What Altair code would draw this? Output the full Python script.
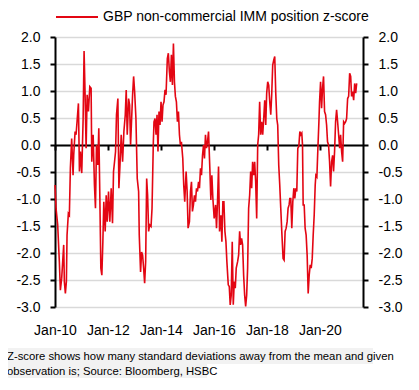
import altair as alt
import pandas as pd

# decimal years (observation dates) and GBP non-commercial IMM position z-score
years = [
    2010.000, 2010.038, 2010.101, 2010.164, 2010.202, 2010.253, 2010.290, 2010.328, 2010.354, 2010.391,
    2010.429, 2010.455, 2010.505, 2010.543, 2010.581, 2010.631, 2010.682, 2010.707, 2010.758, 2010.795,
    2010.833, 2010.884, 2010.922, 2010.960, 2011.010, 2011.061, 2011.098, 2011.136, 2011.174, 2011.212,
    2011.263, 2011.313, 2011.364, 2011.389, 2011.439, 2011.490, 2011.528, 2011.566, 2011.616, 2011.654,
    2011.692, 2011.730, 2011.768, 2011.806, 2011.843, 2011.894, 2011.932, 2011.970, 2012.020, 2012.071,
    2012.121, 2012.172, 2012.210, 2012.247, 2012.285, 2012.323, 2012.374, 2012.412, 2012.449, 2012.500,
    2012.551, 2012.601, 2012.652, 2012.689, 2012.727, 2012.778, 2012.816, 2012.854,
    2012.929, 2012.967, 2013.005, 2013.056, 2013.106, 2013.157, 2013.182, 2013.232, 2013.270, 2013.308,
    2013.346, 2013.384, 2013.422, 2013.460, 2013.497, 2013.535, 2013.573, 2013.624, 2013.662, 2013.712,
    2013.737, 2013.775, 2013.813, 2013.851, 2013.889, 2013.927, 2013.965, 2014.003, 2014.040, 2014.078,
    2014.116, 2014.154, 2014.192, 2014.242, 2014.280, 2014.318, 2014.356, 2014.394, 2014.432, 2014.470,
    2014.508, 2014.545, 2014.583, 2014.621, 2014.659, 2014.697, 2014.735, 2014.773, 2014.823, 2014.861,
    2014.899, 2014.949, 2014.987, 2015.025, 2015.076, 2015.114, 2015.152, 2015.189, 2015.227, 2015.265,
    2015.303, 2015.341, 2015.379, 2015.417, 2015.455, 2015.492, 2015.530, 2015.568, 2015.606, 2015.644,
    2015.682, 2015.720, 2015.758,
    2015.795, 2015.846, 2015.884, 2015.922, 2015.960, 2016.010, 2016.061, 2016.098, 2016.136, 2016.174,
    2016.212, 2016.263, 2016.300, 2016.338, 2016.376, 2016.414, 2016.452, 2016.490, 2016.540, 2016.578,
    2016.616, 2016.654, 2016.692, 2016.730, 2016.768, 2016.806, 2016.843, 2016.894, 2016.932, 2016.970,
    2017.007, 2017.045, 2017.083, 2017.121, 2017.159, 2017.197, 2017.235, 2017.273, 2017.311, 2017.348,
    2017.386, 2017.424, 2017.462, 2017.500, 2017.538, 2017.576, 2017.614, 2017.651, 2017.689, 2017.727,
    2017.765, 2017.803, 2017.841, 2017.879, 2017.917, 2017.955, 2017.992, 2018.030, 2018.068, 2018.106,
    2018.144, 2018.182, 2018.220, 2018.257, 2018.295, 2018.333, 2018.371, 2018.409, 2018.447, 2018.485,
    2018.523, 2018.560, 2018.611, 2018.649, 2018.687, 2018.725, 2018.763, 2018.800, 2018.838,
    2018.864, 2018.901, 2018.939, 2018.977, 2019.015, 2019.053, 2019.091, 2019.129, 2019.167, 2019.204,
    2019.242, 2019.280, 2019.318, 2019.343, 2019.369, 2019.406, 2019.444, 2019.482, 2019.520, 2019.558,
    2019.596, 2019.634, 2019.672, 2019.710, 2019.747, 2019.785, 2019.823, 2019.848, 2019.886, 2019.924,
    2019.962, 2019.987, 2020.025, 2020.063, 2020.101, 2020.139, 2020.177, 2020.215, 2020.252, 2020.290,
    2020.328, 2020.366, 2020.404, 2020.442, 2020.480, 2020.517, 2020.555, 2020.593, 2020.631, 2020.669,
    2020.707, 2020.745, 2020.783, 2020.821, 2020.859, 2020.896, 2020.934, 2020.972, 2021.010, 2021.048,
    2021.086, 2021.124, 2021.162, 2021.199, 2021.237, 2021.275, 2021.313, 2021.351, 2021.389,
]

zscore = [
    -0.74, -1.17, -1.48, -2.16, -2.69, -2.47, -2.16, -1.85, -2.53, -2.75,
    -2.53, -1.67, -1.27, -1.30, -0.43, 0.12, -0.56, -0.19, 0.25, 0.19,
    0.43, 0.77, -0.49, -0.12, -0.52, 0.49, 1.74, 0.93, -0.06, 0.93,
    0.62, 1.08, 1.05, -0.31, 0.19, -0.74, -1.17, 0.00, -0.37, 0.31,
    -0.93, -2.28, -2.41, -1.79, -1.05, -1.60, -0.93, -1.42, -0.86, -1.42,
    -0.80, -1.45, -0.49, -0.31, -0.12, 0.56, 0.86, -0.80, -0.43, 0.19,
    -0.31, 0.25, 0.56, 1.02, 0.19, 0.86, 0.74, 0.00,
    0.93, 1.27, 0.99, 0.49, -0.62, -0.86, -1.67, -2.35, -1.98, -2.04,
    -2.28, -2.56, -2.16, -0.62, -0.93, -1.60, -1.48, -1.51, -1.17, 0.06,
    0.43, 0.49, 0.19, 0.56, -0.12, 0.62, 0.37, 0.80, 0.43, 0.74,
    0.80, 1.02, 0.93, 1.60, 1.70, 1.36, 1.17, 1.67, 1.11, 1.88,
    1.17, 0.90, 0.80, 0.43, 0.62, 0.19, 0.00, 0.06, -0.25, -0.74,
    -1.05, -0.49, -0.86, -1.54, -1.42, -0.86, -0.68, -1.23, -1.11, -0.93,
    -1.05, -0.80, -0.86, -0.68, -0.80, -0.43, -0.56, -0.19, 0.00, -0.25,
    0.19, -0.06, 0.06,
    0.25, -0.43, -1.02, -0.56, -0.99, -1.36, -1.11, -1.54, -1.05, -0.40,
    -1.60, -1.30, -1.79, -1.05, -1.05, -1.60, -1.79, -2.16, -2.59, -2.62,
    -2.96, -2.78, -1.79, -2.96, -2.53, -2.65, -2.28, -2.16, -2.04, -1.60,
    -1.85, -1.73, -1.85, -2.41, -2.78, -2.99, -2.78, -2.28, -1.17, -0.93,
    -0.49, -0.80, -0.31, -0.56, -0.31, -0.68, -1.36, 0.00, 0.19, 0.80,
    0.19, 0.43, 0.19, 0.49, 0.83, 0.37, 0.96, 1.17, 1.11, 0.80,
    0.56, 0.93, 1.48, 1.57, 1.64, 0.96, 0.49, 0.37, -0.37, -0.74,
    -1.17, -1.60, -2.10, -2.13, -1.60, -1.54, -1.42, -1.17, -1.11,
    -0.99, -0.99, -1.54, -1.05, -0.80, -0.99, -0.80, -0.86, -0.06, -0.03,
    0.25, 0.19, 0.22, 0.00, -1.11, -1.11, -1.54, -1.67, -2.04, -2.75,
    -2.41, -2.22, -2.28, -2.10, -1.67, -1.30, -0.74, -0.56, -0.59, -0.06,
    0.43, 0.80, 1.17, 0.68, 1.05, 1.27, 0.62, 0.56, 0.37, 0.06,
    0.00, -0.31, -0.77, -0.31, -0.19, -0.49, -0.12, 0.43, 0.65, 0.43,
    0.19, -0.06, 0.19, -0.12, -0.31, 0.43, 0.40, 0.43, 0.49, 0.86,
    0.90, 1.33, 1.27, 0.90, 0.99, 0.83, 1.14, 0.96, 1.14,
]

SERIES = "GBP non-commercial IMM position z-score"
y_ticks = [-3.0, -2.5, -2.0, -1.5, -1.0, -0.5, 0.0, 0.5, 1.0, 1.5, 2.0]
x_tick_years = [2010, 2012, 2014, 2016, 2018, 2020]
footnote = [
    "Z-score shows how many standard deviations away from the mean and given",
    "observation is; Source: Bloomberg, HSBC",
]

RED = "#E30613"
FONT = "Liberation Sans"
W, H = 308, 270

base_date = pd.Timestamp("2010-01-01")
dates = [base_date + pd.Timedelta(days=round((y - 2010) * 365.25)) for y in years]
df = pd.DataFrame({"date": dates, "z": zscore, "series": SERIES})

x_vals = [alt.DateTime(year=y, month=1, date=1) for y in x_tick_years]
x_scale = alt.Scale(domain=[alt.DateTime(year=2010, month=1, date=1),
                            alt.DateTime(year=2021, month=8, date=18)])
y_scale = alt.Scale(domain=[-3, 2], nice=False, zero=False)
ylab = "(datum.value < 0 ? '-' : '') + format(abs(datum.value), '.1f')"

line = alt.Chart(df).mark_line(color=RED, strokeWidth=1.6).encode(
    x=alt.X("date:T", scale=x_scale, title=None,
            axis=alt.Axis(values=x_vals, format="%b-%y", labelFontSize=14, labelFont=FONT,
                          labelColor="black", ticks=False, tickSize=0, domain=False,
                          grid=False, labelPadding=16, labelFlush=False, labelAngle=0,
                          labelOverlap=False)),
    y=alt.Y("z:Q", scale=y_scale, title=None,
            axis=alt.Axis(values=y_ticks, labelExpr=ylab, labelFontSize=14, labelFont=FONT,
                          labelColor="black", tickColor="black", tickSize=5, tickWidth=2,
                          domainColor="black", domainWidth=2, grid=True, gridColor="#d9d9d9",
                          gridWidth=1.5, labelPadding=10)),
    color=alt.Color("series:N", scale=alt.Scale(range=[RED]),
                    legend=alt.Legend(title=None, orient="none", legendX=0, legendY=-42,
                                      symbolType="stroke", symbolSize=1764, symbolStrokeWidth=2,
                                      labelFontSize=14, labelFont=FONT, labelColor="black",
                                      labelLimit=0, padding=0, labelOffset=4)),
)

ghost = alt.Chart(df).mark_line(strokeOpacity=0).encode(
    x=alt.X("date:T", scale=x_scale, title=None,
            axis=alt.Axis(orient="bottom", values=x_vals, labels=False, ticks=True, tickSize=5,
                          tickWidth=2, tickColor="black", domain=True, domainColor="black",
                          domainWidth=2, grid=False, offset=-162)),
    y=alt.Y("z:Q", scale=y_scale, title=None,
            axis=alt.Axis(orient="right", values=y_ticks, labelExpr=ylab, labelFontSize=14,
                          labelFont=FONT, labelColor="black", tickColor="black", tickSize=5,
                          tickWidth=2, domainColor="black", domainWidth=2, grid=False,
                          labelPadding=10)),
)

bg1 = alt.Chart(pd.DataFrame({"k": [1]})).mark_rect(color="#f2f2f2").encode(
    x=alt.value(-49), x2=alt.value(318), y=alt.value(311), y2=alt.value(327))
bg2 = alt.Chart(pd.DataFrame({"k": [1]})).mark_rect(color="#f2f2f2").encode(
    x=alt.value(-49), x2=alt.value(152), y=alt.value(327), y2=alt.value(341))
t1 = alt.Chart(pd.DataFrame({"t": [footnote[0]]})).mark_text(
    align="left", baseline="middle", font=FONT, fontSize=11.3, color="black").encode(
    text="t:N", x=alt.value(-48), y=alt.value(320))
t2 = alt.Chart(pd.DataFrame({"t": [footnote[1]]})).mark_text(
    align="left", baseline="middle", font=FONT, fontSize=11.3, color="black").encode(
    text="t:N", x=alt.value(-48), y=alt.value(335))

chart = alt.layer(bg1, bg2, t1, t2, line, ghost).resolve_axis(
    x="independent", y="independent"
).properties(
    width=W, height=H,
    autosize=alt.AutoSizeParams(type="none"),
    padding={"left": 47, "top": 29, "right": 48, "bottom": 75},
).configure_view(stroke=None)

chart.save("out.html", embed_options={"renderer": "svg", "actions": False})
